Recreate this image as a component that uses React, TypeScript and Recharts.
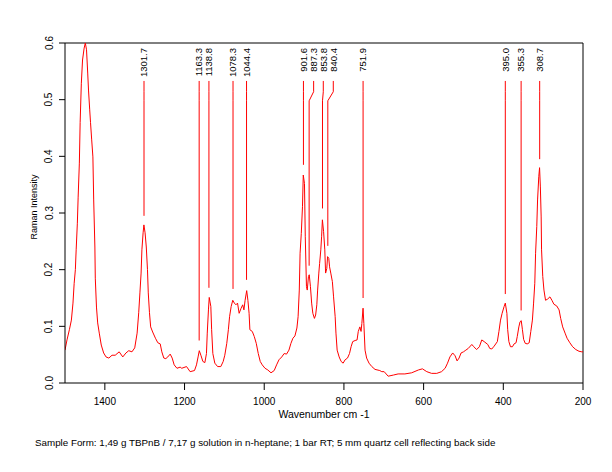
import React from "react";
import { LineChart, Line, XAxis, YAxis, ReferenceLine } from "recharts";

// Spectrum (wavenumber cm-1, Raman intensity)
const wavenumbers = [
  1500, 1495, 1489, 1484, 1480, 1477, 1474, 1472, 1469, 1467, 1464, 1462, 1459, 1456, 1452, 1449, 1446, 1443, 1441, 1438,
  1436, 1433, 1430, 1428, 1425, 1424, 1421, 1418, 1414, 1409, 1403, 1397, 1390, 1382, 1374, 1364, 1355, 1347, 1340, 1332,
  1325, 1319, 1315, 1312, 1309, 1307, 1304, 1302, 1299, 1296, 1293, 1291, 1288, 1285, 1280, 1273, 1267, 1261, 1257, 1252,
  1247, 1242, 1236, 1231, 1226, 1219, 1211, 1207, 1195, 1186, 1175, 1170, 1166, 1163, 1159, 1154, 1149, 1145, 1143, 1140,
  1138, 1134, 1132, 1129, 1124, 1117, 1109, 1103, 1099, 1094, 1090, 1087, 1083, 1079, 1075, 1071, 1067, 1063, 1058, 1054,
  1051, 1048, 1044, 1041, 1038, 1036, 1030, 1025, 1020, 1015, 1010, 1005, 998, 991, 983, 975, 969, 963, 956, 950,
  944, 938, 933, 928, 923, 918, 915, 912, 910, 907, 904, 902, 899, 897, 894, 892, 889, 887, 884, 881,
  878, 874, 871, 868, 866, 863, 861, 858, 856, 854, 851, 848, 846, 843, 841, 838, 836, 833, 829, 826,
  822, 820, 817, 812, 807, 802, 797, 791, 786, 782, 778, 772, 767, 764, 760, 757, 755, 752, 750, 747,
  743, 737, 730, 722, 710, 705, 699, 689, 676, 664, 647, 630, 613, 603, 592, 580, 567, 555, 546, 540,
  534, 527, 521, 516, 511, 506, 500, 494, 488, 479, 474, 467, 460, 454, 448, 439, 434, 429, 423, 415,
  411, 407, 403, 398, 395, 391, 389, 386, 382, 377, 373, 368, 365, 361, 358, 355, 352, 349, 345, 340,
  335, 331, 327, 324, 321, 319, 316, 314, 311, 309, 307, 305, 304, 301, 298, 294, 289, 283, 278, 273,
  266, 260, 256, 251, 245, 240, 233, 226, 218, 210, 203, 200,
];
const intensities = [
  0.058, 0.076, 0.094, 0.111, 0.141, 0.176, 0.2, 0.235, 0.282, 0.328, 0.388, 0.46, 0.529, 0.57, 0.591, 0.6, 0.588, 0.547, 0.517, 0.482,
  0.46, 0.429, 0.399, 0.323, 0.24, 0.185, 0.134, 0.106, 0.088, 0.067, 0.053, 0.046, 0.044, 0.049, 0.049, 0.055, 0.046, 0.053, 0.057, 0.055,
  0.062, 0.088, 0.124, 0.159, 0.194, 0.235, 0.265, 0.279, 0.265, 0.24, 0.2, 0.159, 0.124, 0.099, 0.09, 0.079, 0.071, 0.069, 0.055, 0.044,
  0.043, 0.046, 0.051, 0.044, 0.032, 0.026, 0.028, 0.026, 0.029, 0.02, 0.022, 0.032, 0.046, 0.057, 0.049, 0.038, 0.036, 0.052, 0.088, 0.129,
  0.151, 0.135, 0.094, 0.052, 0.035, 0.029, 0.029, 0.038, 0.049, 0.07, 0.094, 0.117, 0.135, 0.146, 0.141, 0.138, 0.141, 0.123, 0.132, 0.138,
  0.129, 0.146, 0.163, 0.146, 0.123, 0.094, 0.091, 0.082, 0.07, 0.052, 0.038, 0.032, 0.026, 0.023, 0.018, 0.022, 0.032, 0.041, 0.046, 0.052,
  0.051, 0.058, 0.07, 0.079, 0.083, 0.097, 0.117, 0.164, 0.229, 0.264, 0.311, 0.367, 0.352, 0.258, 0.17, 0.164, 0.188, 0.191, 0.17, 0.141,
  0.123, 0.114, 0.12, 0.138, 0.164, 0.194, 0.211, 0.235, 0.258, 0.288, 0.267, 0.235, 0.194, 0.202, 0.223, 0.22, 0.205, 0.194, 0.179, 0.152,
  0.117, 0.088, 0.058, 0.046, 0.038, 0.035, 0.041, 0.044, 0.052, 0.064, 0.073, 0.075, 0.076, 0.091, 0.099, 0.091, 0.105, 0.132, 0.105, 0.058,
  0.044, 0.035, 0.029, 0.024, 0.022, 0.02, 0.02, 0.012, 0.014, 0.016, 0.016, 0.018, 0.023, 0.025, 0.02, 0.017, 0.017, 0.02, 0.026, 0.035,
  0.046, 0.053, 0.048, 0.039, 0.044, 0.053, 0.055, 0.058, 0.061, 0.068, 0.064, 0.059, 0.064, 0.076, 0.073, 0.068, 0.061, 0.06, 0.065, 0.073,
  0.091, 0.111, 0.123, 0.135, 0.141, 0.123, 0.094, 0.073, 0.064, 0.064, 0.069, 0.071, 0.082, 0.099, 0.108, 0.11, 0.094, 0.077, 0.07, 0.069,
  0.071, 0.091, 0.111, 0.141, 0.176, 0.229, 0.276, 0.323, 0.364, 0.38, 0.346, 0.293, 0.235, 0.188, 0.164, 0.146, 0.148, 0.152, 0.146, 0.139,
  0.136, 0.129, 0.114, 0.099, 0.088, 0.079, 0.071, 0.064, 0.059, 0.056, 0.055, 0.055,
];

// Peak annotations
const peakLabels = ["1301.7", "1163.3", "1138.8", "1078.3", "1044.4", "901.6", "887.3", "853.8", "840.4", "751.9", "395.0", "355.3", "308.7"];
const peakPositions = [1301.7, 1163.3, 1138.8, 1078.3, 1044.4, 901.6, 887.3, 853.8, 840.4, 751.9, 395.0, 355.3, 308.7];
const peakLabelPositions = [1301.7, 1163.3, 1138.8, 1078.3, 1044.4, 901.6, 876.0, 851.8, 826.7, 751.9, 395.0, 355.3, 308.7];
const peakLineEnds = [0.295, 0.075, 0.168, 0.166, 0.182, 0.385, 0.207, 0.308, 0.242, 0.15, 0.157, 0.128, 0.395];
const peakLineTop = 0.533;
const peakBendStart = 0.514;
const peakBendEnd = 0.498;

const xTicks = [1400, 1200, 1000, 800, 600, 400, 200];
const yTicks = [0, 0.1, 0.2, 0.3, 0.4, 0.5, 0.6];

const spectrum = wavenumbers.map((w, i) => ({ w, v: intensities[i] }));
const annotations = peakLabels.map((label, i) => ({
  label,
  data: [
    { w: peakLabelPositions[i], v: peakLineTop },
    { w: peakLabelPositions[i], v: peakBendStart },
    { w: peakPositions[i], v: peakBendEnd },
    { w: peakPositions[i], v: peakLineEnds[i] },
  ],
}));

const FONT = "'Liberation Sans', Arial, sans-serif";

const YTick = (props: any) => {
  const { x, y, payload } = props;
  return (
    <text x={x} y={y} transform={`rotate(-90, ${x}, ${y})`} textAnchor="middle" dy="0.35em" fontSize={10} fontFamily={FONT} fill="#000">
      {Number(payload.value).toFixed(1)}
    </text>
  );
};

const XTick = (props: any) => {
  const { x, y, payload } = props;
  return (
    <text x={x} y={y} textAnchor="middle" dy="0.71em" fontSize={10} fontFamily={FONT} fill="#000">
      {payload.value}
    </text>
  );
};

const XAxisLabel = (props: any) => {
  const vb = props.viewBox || { x: 65, y: 383, width: 518, height: 30 };
  const cx = vb.x + vb.width / 2;
  return (
    <g>
      <text x={cx} y={vb.y + 35} textAnchor="middle" fontSize={10.5} fontFamily={FONT} fill="#000">
        Wavenumber cm -1
      </text>
      <text x={35} y={vb.y + 63} textAnchor="start" fontSize={9.8} fontFamily={FONT} fill="#000">
        Sample Form:  1,49 g TBPnB / 7,17 g solution in n-heptane; 1 bar RT; 5 mm quartz cell reflecting back side
      </text>
    </g>
  );
};

const YAxisLabel = (props: any) => {
  const vb = props.viewBox || { x: 25, y: 43, width: 40, height: 340 };
  const cx = 34;
  const cy = vb.y + vb.height / 2 - 6;
  return (
    <text x={cx} y={cy} transform={`rotate(-90, ${cx}, ${cy})`} textAnchor="middle" dy="0.35em" fontSize={9} fontFamily={FONT} fill="#000">
      Raman Intensity
    </text>
  );
};

const makePeakLabel = (text: string) => (props: any) => {
  const { x, y, index } = props;
  if (index !== 0) return null;
  const ty = y - 33;
  return (
    <text key={text} x={x} y={ty} transform={`rotate(-90, ${x}, ${ty})`} textAnchor="end" dy="0.35em" fontSize={9.5} fontFamily={FONT} fill="#000">
      {text}
    </text>
  );
};

export default function App() {
  return (
    <div style={{ position: "absolute", left: 0, top: 0, width: 612, height: 472, background: "#fff" }}>
      <LineChart width={612} height={472} margin={{ top: 43, right: 29, bottom: 59, left: 25 }}>
        <XAxis
          dataKey="w"
          type="number"
          domain={[200, 1500]}
          reversed
          ticks={xTicks}
          allowDataOverflow
          height={30}
          tickSize={7}
          tickMargin={8}
          tick={<XTick />}
          stroke="#000"
          label={<XAxisLabel />}
        />
        <YAxis
          dataKey="v"
          type="number"
          domain={[0, 0.6]}
          ticks={yTicks}
          allowDataOverflow
          width={40}
          tickSize={6}
          tickMargin={10}
          tick={<YTick />}
          stroke="#000"
          label={<YAxisLabel />}
        />
        <ReferenceLine y={0.6} stroke="#000" ifOverflow="visible" />
        <ReferenceLine x={200} stroke="#000" ifOverflow="visible" />
        <Line
          data={spectrum}
          dataKey="v"
          type="linear"
          stroke="#ff0000"
          strokeWidth={1}
          dot={false}
          isAnimationActive={false}
        />
        {annotations.map((a) => (
          <Line
            key={a.label}
            data={a.data}
            dataKey="v"
            type="linear"
            stroke="#ff0000"
            strokeWidth={1}
            dot={false}
            isAnimationActive={false}
            label={makePeakLabel(a.label)}
          />
        ))}
      </LineChart>
    </div>
  );
}
